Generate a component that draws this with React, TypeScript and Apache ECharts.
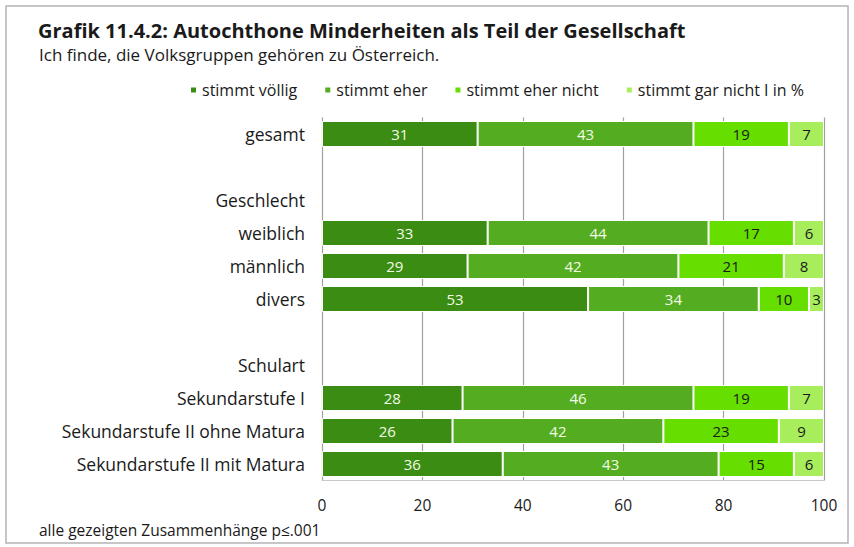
import React, { useEffect, useRef } from "react";
import * as echarts from "echarts";

const categories = [
  "gesamt",
  " ",
  "Geschlecht",
  "weiblich",
  "männlich",
  "divers",
  "  ",
  "Schulart",
  "Sekundarstufe I",
  "Sekundarstufe II ohne Matura",
  "Sekundarstufe II mit Matura",
];

const seriesNames = ["stimmt völlig", "stimmt eher", "stimmt eher nicht", "stimmt gar nicht I in %"];

const voellig = [31, null, null, 33, 29, 53, null, null, 28, 26, 36];
const eher = [43, null, null, 44, 42, 34, null, null, 46, 42, 43];
const eherNicht = [19, null, null, 17, 21, 10, null, null, 19, 23, 15];
const garNicht = [7, null, null, 6, 8, 3, null, null, 7, 9, 6];

const xTicks = [0, 20, 40, 60, 80, 100];

const colors = ["#3a8c12", "#54ad20", "#66de00", "#a8ee5c"];
const labelColors = ["#f4fbe8", "#f4fbe8", "#1a1a1a", "#1a1a1a"];

const FONT = "'Open Sans', Lato, sans-serif";

export default function App() {
  const ref = useRef<HTMLDivElement>(null);
  useEffect(() => {
    if (!ref.current) return;
    const chart = echarts.init(ref.current, undefined, { renderer: "svg" });
    const values = [voellig, eher, eherNicht, garNicht];
    chart.setOption({
      animation: false,
      backgroundColor: "#ffffff",
      textStyle: { fontFamily: FONT },
      title: [
        {
          text: "Grafik 11.4.2: Autochthone Minderheiten als Teil der Gesellschaft",
          left: 33,
          top: 15,
          textStyle: { fontFamily: FONT, fontSize: 20, fontWeight: "bold", color: "#1a1a1a" },
        },
        {
          text: "Ich finde, die Volksgruppen gehören zu Österreich.",
          left: 34,
          top: 41,
          textStyle: { fontFamily: FONT, fontSize: 17, fontWeight: "normal", color: "#1a1a1a" },
        },
        {
          text: "alle gezeigten Zusammenhänge p≤.001",
          left: 34,
          top: 517,
          textStyle: { fontFamily: FONT, fontSize: 15.5, fontWeight: "normal", color: "#1a1a1a" },
        },
      ],
      graphic: [
        {
          type: "rect",
          shape: { x: 6, y: 6, width: 842, height: 537 },
          style: { fill: "none", stroke: "#b4b4b4", lineWidth: 1.5 },
          silent: true,
        },
      ],
      legend: {
        top: 77,
        left: 184,
        itemWidth: 7,
        itemHeight: 7,
        itemGap: 26,
        icon: "rect",
        textStyle: { fontFamily: FONT, fontSize: 16, color: "#1a1a1a" },
        data: seriesNames,
      },
      grid: { left: 322, right: 30, top: 117.5, bottom: 66.5 },
      xAxis: {
        type: "value",
        min: xTicks[0],
        max: xTicks[xTicks.length - 1],
        interval: 20,
        axisLine: { show: true, lineStyle: { color: "#c8c8c8" } },
        axisTick: { show: false },
        axisLabel: { fontFamily: FONT, fontSize: 15.5, color: "#1a1a1a", margin: 16 },
        splitLine: { show: true, lineStyle: { color: "#a0a0a0", width: 1.2 } },
      },
      yAxis: {
        type: "category",
        inverse: true,
        data: categories,
        axisLine: { show: false },
        axisTick: { show: false },
        axisLabel: { fontFamily: FONT, fontSize: 17.5, color: "#1a1a1a", margin: 17 },
      },
      series: seriesNames.map((name, i) => ({
        name,
        type: "bar",
        stack: "total",
        barWidth: 26,
        data: values[i],
        itemStyle: { color: colors[i], borderColor: "#ffffff", borderWidth: 1 },
        label: {
          show: true,
          position: "inside",
          fontFamily: FONT,
          fontSize: 15,
          color: labelColors[i],
        },
      })),
    });
    return () => chart.dispose();
  }, []);
  return (
    <div
      ref={ref}
      style={{ position: "absolute", left: 0, top: 0, width: 854, height: 547 }}
    />
  );
}
